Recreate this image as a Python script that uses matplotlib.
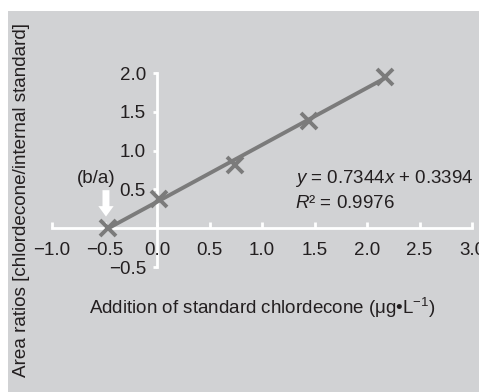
import matplotlib.pyplot as plt
import numpy as np

plt.rcParams['font.family'] = ['Liberation Sans', 'DejaVu Sans']
plt.rcParams['mathtext.fontset'] = 'custom'
plt.rcParams['mathtext.rm'] = 'Liberation Sans'
plt.rcParams['mathtext.it'] = 'Liberation Sans:italic'

# standard addition data
x_added = [-0.462, 0.02, 0.74, 1.45, 2.17]
ratio = [0.0, 0.38, 0.82, 1.38, 1.95]
slope, intercept = 0.7344, 0.3394

xticks = [-1.0, -0.5, 0.0, 0.5, 1.0, 1.5, 2.0, 2.5, 3.0]
yticks = [-0.5, 0.5, 1.0, 1.5, 2.0]

bg = '#d1d2d4'
txt = '#231f20'
fs = 13.5
W, H = 479, 392
fig = plt.figure(figsize=(W / 100, H / 100), dpi=100)
fig.patch.set_facecolor(bg)
# white margin strips at the top and left
fig.patches.append(plt.Rectangle((0, 0), 8 / W, 1, transform=fig.transFigure,
                                 facecolor='white', edgecolor='none', zorder=-5))
fig.patches.append(plt.Rectangle((0, 1 - 11 / H), 1, 11 / H, transform=fig.transFigure,
                                 facecolor='white', edgecolor='none', zorder=-5))

ax = fig.add_axes([52 / W, 1 - 267 / H, 420 / W, 194 / H])
ax.patch.set_alpha(0)
ax.set_xlim(-1.0, 3.0)
ax.set_ylim(-0.5, 2.0)

for s in ['top', 'right']:
    ax.spines[s].set_visible(False)
ax.spines['left'].set_position(('data', 0))
ax.spines['bottom'].set_position(('data', 0))
for s in ['left', 'bottom']:
    ax.spines[s].set_color('white')
    ax.spines[s].set_linewidth(2)
    ax.spines[s].set_zorder(1)

def fmt(v):
    return '\u2212' + f'{abs(v):.1f}' if v < 0 else f'{v:.1f}'

ax.set_xticks(xticks)
ax.set_yticks(yticks)
ax.set_xticklabels([fmt(v) for v in xticks])
ax.set_yticklabels([fmt(v) for v in yticks])
ax.tick_params(axis='x', direction='in', length=4, width=2, color='white',
               labelsize=fs, labelcolor=txt, pad=10)
ax.tick_params(axis='y', direction='out', length=3, width=2, color='white',
               labelsize=fs, labelcolor=txt, pad=5)

xf = np.array([x_added[0], x_added[-1]])
ax.plot(xf, slope * xf + intercept, color='#7b7b7b', lw=2.8, zorder=3, clip_on=False)
ax.plot(x_added, ratio, 'x', color='#7b7b7b', ms=11, mew=2.8, zorder=4, clip_on=False)

ax.text(1.31, 0.645, r'$\it{y}$ = 0.7344$\it{x}$ + 0.3394', fontsize=fs, color=txt,
        va='center', ha='left')
ax.text(1.31, 0.32, r'$\it{R}$² = 0.9976', fontsize=fs, color=txt, va='center', ha='left')
ax.text(-0.76, 0.64, '(b/a)', fontsize=fs, color=txt, va='center', ha='left')
ax.annotate('', xy=(-0.486, 0.15), xytext=(-0.486, 0.49),
            arrowprops=dict(arrowstyle='simple,head_width=1.1,head_length=0.75,tail_width=0.5',
                            mutation_scale=10, shrinkA=0, shrinkB=0,
                            fc='white', ec='none'))

fig.text(262 / W, 1 - 308 / H, 'Addition of standard chlordecone (\u03bcg\u2022L$^{\u22121}$)',
         fontsize=fs, color=txt, ha='center', va='center')
fig.text(22 / W, 1 - 200 / H, 'Area ratios [chlordecone/internal standard]',
         fontsize=13.6, color=txt, ha='center', va='center', rotation=90)

fig.savefig('out.png', dpi=100)
